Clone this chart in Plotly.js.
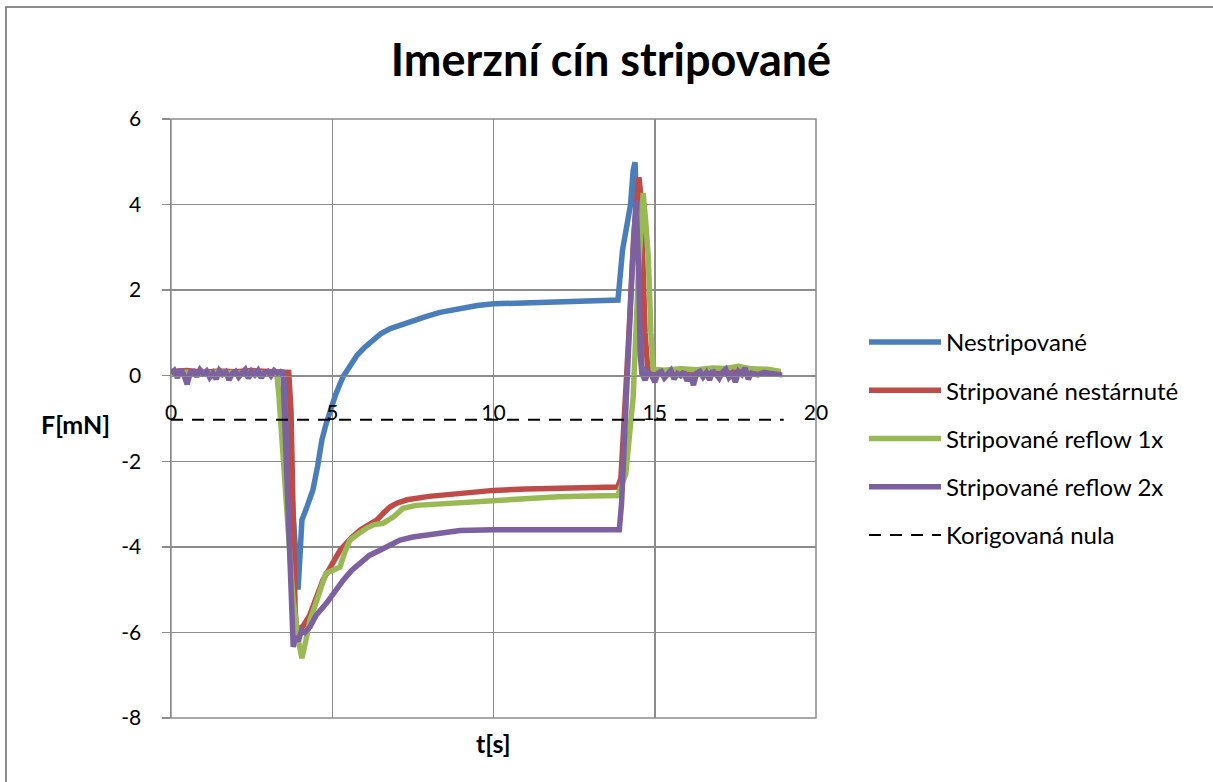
<!DOCTYPE html>
<html>
<head>
<meta charset="utf-8">
<script src="https://cdn.plot.ly/plotly-3.0.1.min.js"></script>
<style>html,body{margin:0;padding:0;background:#fff;}#chart{width:1213px;height:782px;}</style>
</head>
<body>
<div id="chart"></div>
<script>
// ---- data ----
const seriesNames = ["Nestripované", "Stripované nestárnuté", "Stripované reflow 1x", "Stripované reflow 2x", "Korigovaná nula"];

const blueT = [0, 0.3, 0.6, 1.0, 1.4, 1.8, 2.2, 2.6, 3.0, 3.3, 3.5, 3.6, 3.75, 3.88, 3.94, 4.0, 4.06, 4.2, 4.4, 4.55, 4.62, 4.68, 4.8, 4.93, 5.1, 5.33, 5.55, 5.77, 6.0, 6.25, 6.5, 6.8, 7.1, 7.4, 7.9, 8.34, 8.9, 9.5, 10, 11, 12, 13, 13.7, 13.86, 14.0, 14.13, 14.25, 14.33, 14.39, 14.45, 14.52, 14.6, 14.7, 15.0, 15.5, 16.0, 16.5, 17.0, 17.5, 18.0, 18.5, 18.9];
const blueF = [0.05, 0.08, 0.04, 0.07, 0.05, 0.08, 0.06, 0.07, 0.06, 0.07, 0.05, -0.8, -2.8, -4.6, -5.0, -4.2, -3.37, -3.1, -2.67, -2.1, -1.74, -1.5, -1.15, -0.8, -0.45, -0.03, 0.25, 0.48, 0.66, 0.84, 0.98, 1.1, 1.18, 1.27, 1.38, 1.48, 1.57, 1.64, 1.68, 1.71, 1.73, 1.75, 1.76, 1.77, 2.93, 3.47, 4.0, 4.8, 4.99, 3.5, 1.5, 0.2, 0.1, 0.08, 0.1, 0.07, 0.09, 0.08, 0.1, 0.08, 0.07, 0.05];

const redT = [0, 0.5, 1.0, 1.5, 2.0, 2.5, 3.0, 3.4, 3.65, 3.72, 3.78, 3.85, 3.9, 4.0, 4.1, 4.3, 4.5, 4.71, 5.0, 5.24, 5.55, 5.86, 6.1, 6.39, 6.6, 6.79, 7.0, 7.32, 8.0, 8.96, 10, 11, 12, 13, 13.85, 13.95, 14.05, 14.2, 14.35, 14.45, 14.51, 14.57, 14.64, 14.7, 14.78, 14.85, 15.2, 15.6, 16.0, 16.5, 17.0, 17.5, 18.0, 18.5, 18.9];
const redF = [0.1, 0.12, 0.08, 0.11, 0.09, 0.12, 0.1, 0.1, 0.08, -0.8, -3.5, -5.5, -5.95, -5.9, -5.85, -5.6, -5.2, -4.78, -4.4, -4.08, -3.82, -3.61, -3.5, -3.37, -3.2, -3.07, -2.98, -2.9, -2.82, -2.75, -2.68, -2.65, -2.63, -2.61, -2.6, -2.4, -1.2, 1.0, 3.3, 4.3, 4.64, 4.2, 2.6, 1.0, 0.2, 0.12, 0.1, 0.12, 0.1, 0.11, 0.1, 0.12, 0.1, 0.09, 0.08];

const greenT = [0, 0.5, 1.0, 1.5, 2.0, 2.5, 3.0, 3.28, 3.35, 3.44, 3.55, 3.66, 3.78, 3.95, 4.06, 4.15, 4.31, 4.5, 4.71, 4.8, 5.0, 5.24, 5.4, 5.55, 5.8, 6.07, 6.3, 6.57, 6.9, 7.19, 7.6, 8.2, 8.96, 10, 11, 12, 13, 13.85, 14.1, 14.33, 14.5, 14.64, 14.72, 14.8, 14.88, 14.95, 15.3, 15.8, 16.3, 16.8, 17.2, 17.6, 18.0, 18.5, 18.9];
const greenF = [0.05, 0.08, 0.04, 0.09, 0.06, 0.08, 0.06, 0.05, -0.5, -1.5, -2.9, -3.9, -5.2, -6.2, -6.6, -6.3, -5.71, -5.3, -4.78, -4.62, -4.55, -4.47, -4.1, -3.84, -3.7, -3.56, -3.48, -3.45, -3.3, -3.1, -3.03, -3.0, -2.96, -2.9, -2.86, -2.83, -2.81, -2.8, -2.3, -0.5, 2.5, 4.27, 3.6, 2.77, 1.0, 0.15, 0.13, 0.16, 0.14, 0.18, 0.17, 0.22, 0.16, 0.15, 0.1];

const purpleT = [0.0, 0.1, 0.2, 0.3, 0.4, 0.5, 0.6, 0.7, 0.8, 0.9, 1.0, 1.1, 1.2, 1.3, 1.4, 1.5, 1.6, 1.7, 1.8, 1.9, 2.0, 2.1, 2.2, 2.3, 2.4, 2.5, 2.6, 2.7, 2.8, 2.9, 3.0, 3.1, 3.2, 3.3, 3.4, 3.47, 3.6, 3.79, 3.85, 3.95, 4.05, 4.15, 4.31, 4.5, 4.83, 5.1, 5.34, 5.6, 5.86, 6.15, 6.48, 6.8, 7.1, 7.5, 7.93, 8.4, 8.96, 10, 11, 12, 13, 13.9, 13.97, 14.05, 14.13, 14.3, 14.42, 14.5, 14.55, 14.6, 14.7, 14.8, 14.9, 15.0, 15.1, 15.2, 15.3, 15.4, 15.5, 15.6, 15.7, 15.8, 15.9, 16.0, 16.1, 16.2, 16.3, 16.4, 16.5, 16.6, 16.7, 16.8, 16.9, 17.0, 17.1, 17.2, 17.3, 17.4, 17.5, 17.6, 17.7, 17.8, 17.9, 18.0, 18.2, 18.4, 18.6, 18.8, 18.95];
const purpleF = [0.05, 0.12, -0.05, 0.15, 0.02, -0.2, 0.08, 0.1, -0.02, 0.14, 0.05, 0.11, -0.04, 0.06, -0.08, 0.12, 0.03, 0.09, -0.1, 0.05, 0.1, -0.03, 0.06, 0.14, -0.06, 0.1, 0.02, 0.12, -0.05, 0.07, 0.1, 0.0, 0.12, 0.06, 0.1, 0.08, -2.5, -6.34, -6.1, -6.2, -5.95, -6.0, -5.87, -5.6, -5.31, -5.0, -4.78, -4.55, -4.38, -4.2, -4.08, -3.95, -3.84, -3.77, -3.72, -3.66, -3.62, -3.6, -3.6, -3.6, -3.6, -3.6, -3.0, -1.5, -0.5, 2.5, 4.1, 2.5, 0.5, 0.05, -0.1, 0.08, 0.02, -0.15, 0.06, 0.1, -0.05, 0.04, 0.12, -0.08, 0.05, 0.0, 0.09, -0.12, 0.04, -0.22, 0.06, 0.1, -0.03, 0.07, -0.1, 0.12, 0.02, -0.06, 0.08, 0.15, -0.04, 0.05, -0.15, 0.1, 0.03, 0.18, -0.08, 0.06, 0.02, 0.08, 0.05, 0.04, 0.02];

const zeroT = [0, 19];
const zeroF = [-1.03, -1.03];

const yTicks = [6, 4, 2, 0, -2, -4, -6, -8];
const yTickText = ["6", "4", "2", "0", "-2", "-4", "-6", "-8"];
const xTicks = [0, 5, 10, 15, 20];
const xTickText = ["0", "5", "10", "15", "20"];

const colors = ["#4A7EBB", "#BE4B48", "#98B954", "#7D60A0", "#000000"];
const FONT = "Lato, Carlito, Calibri, 'Liberation Sans', sans-serif";

const xs = [blueT, redT, greenT, purpleT, zeroT];
const ys = [blueF, redF, greenF, purpleF, zeroF];

const traces = xs.map((x, i) => ({
  x: x, y: ys[i], type: "scatter", mode: "lines", name: seriesNames[i],
  legendgroup: "g" + i,
  line: i < 4 ? {color: colors[i], width: 5.5} : {color: colors[i], width: 2, dash: "12px,9px"}
}));
const gridCol = "#8c8c8c";
const layout = {
  width: 1213, height: 782,
  margin: {l: 171, r: 397, t: 119, b: 64, pad: 0},
  paper_bgcolor: "#ffffff", plot_bgcolor: "#ffffff",
  font: {family: FONT, size: 20, color: "#000"},
  title: {text: "<b>Imerzní cín stripované</b>", font: {family: FONT, size: 45, color: "#000"},
          x: 611/1213, xref: "container", xanchor: "center", y: 1 - 60/782, yref: "container", yanchor: "middle"},
  xaxis: {range: [0, 20], tickvals: xTicks, ticktext: xTickText, showgrid: true, gridcolor: gridCol, gridwidth: 1.5,
          zeroline: false, showline: true, linecolor: gridCol, linewidth: 1.5, anchor: "free", position: 8/14,
          ticks: "", ticklabelstandoff: 18, tickfont: {family: FONT, size: 21}, fixedrange: true},
  yaxis: {range: [-8, 6], tickvals: yTicks, ticktext: yTickText, showgrid: true, gridcolor: gridCol, gridwidth: 1.5,
          zeroline: false, showline: true, linecolor: gridCol, linewidth: 1.5, ticks: "outside", ticklen: 8,
          tickcolor: gridCol, tickwidth: 1.5, ticklabelstandoff: 16, tickfont: {family: FONT, size: 21}, fixedrange: true},
  showlegend: true,
  legend: {x: (864-171)/645, xanchor: "left", y: (718-320)/599, yanchor: "top", traceorder: "grouped",
           tracegroupgap: 14, itemwidth: 72, font: {family: FONT, size: 24, color: "#000"}, bgcolor: "rgba(0,0,0,0)"},
  annotations: [
    {text: "<b>F[mN]</b>", xref: "paper", yref: "paper", x: (76-171)/645, y: (718-424)/599, xanchor: "center", yanchor: "middle", showarrow: false, font: {family: FONT, size: 25}},
    {text: "<b>t[s]</b>", xref: "paper", yref: "paper", x: (493-171)/645, y: (718-743)/599, xanchor: "center", yanchor: "middle", showarrow: false, font: {family: FONT, size: 25}}
  ],
  shapes: [
    {type: "rect", xref: "paper", yref: "paper", x0: (6-171)/645, x1: (1240-171)/645, y0: (718-800)/599, y1: (718-7)/599,
     line: {color: "#8c8c8c", width: 2}, fillcolor: "rgba(0,0,0,0)", layer: "below"},
    {type: "rect", xref: "paper", yref: "paper", x0: 0, x1: 1, y0: 0, y1: 1,
     line: {color: gridCol, width: 1.5}, fillcolor: "rgba(0,0,0,0)", layer: "below"}
  ]
};
Plotly.newPlot("chart", traces, layout, {displayModeBar: false, staticPlot: true});
</script>
</body>
</html>
